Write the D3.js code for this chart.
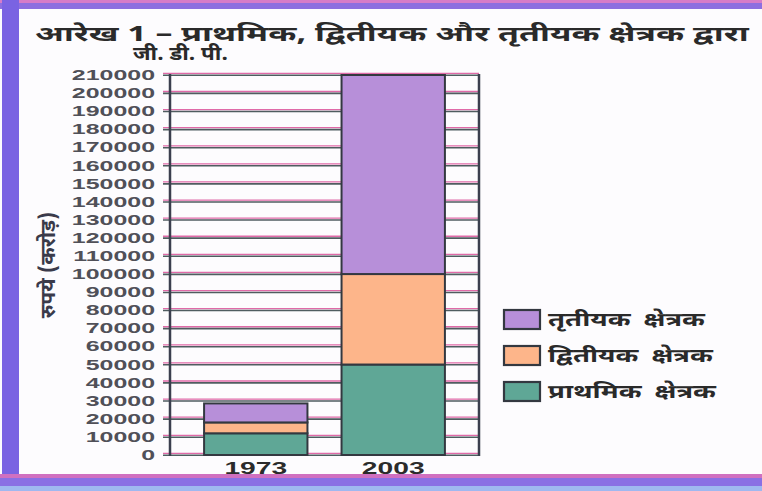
<!DOCTYPE html>
<html>
<head>
<meta charset="utf-8">
<script src="https://cdn.jsdelivr.net/npm/d3@7"></script>
<style>
html,body{margin:0;padding:0;background:#fff;}
svg{display:block;}
</style>
</head>
<body>
<svg id="chart" width="762" height="491"></svg>
<script>
// ---- data ----
const categories = ["1973", "2003"];
const primary = [12000, 50000];
const secondary = [6000, 50000];
const tertiary = [10500, 110000];
const seriesKeys = ["primary", "secondary", "tertiary"];
const seriesLabels = ["प्राथमिक क्षेत्रक", "द्वितीयक क्षेत्रक", "तृतीयक क्षेत्रक"];
const yTickValues = d3.range(0, 210001, 10000);
const titleLines = ["आरेख 1 – प्राथमिक, द्वितीयक और तृतीयक क्षेत्रक द्वारा", "जी. डी. पी."];
const yLabel = "रुपये (करोड़)";

const colors = {primary: "#5fa796", secondary: "#fdb58a", tertiary: "#b78fd9"};

const svg = d3.select("#chart");
const W = 762, H = 491;

// background & outer frame
svg.append("rect").attr("width", W).attr("height", H).attr("fill", "#fdfcfe");
svg.append("rect").attr("x", 0).attr("y", 0).attr("width", W).attr("height", 3).attr("fill", "#d77cc8");
svg.append("rect").attr("x", 0).attr("y", 3).attr("width", W).attr("height", 6).attr("fill", "#8e6fe0");
svg.append("rect").attr("x", 2).attr("y", 0).attr("width", 17).attr("height", H).attr("fill", "#7a63e2");
svg.append("rect").attr("x", 0).attr("y", 474).attr("width", W).attr("height", 4).attr("fill", "#d070c0");
svg.append("rect").attr("x", 0).attr("y", 478).attr("width", W).attr("height", 8).attr("fill", "#8a6fe4");
svg.append("rect").attr("x", 0).attr("y", 486).attr("width", W).attr("height", 5).attr("fill", "#9fb8f0");

const devFont = "'Noto Sans Devanagari','Lohit Devanagari','Mangal','Noto Sans',sans-serif";

// title: stretched horizontally to the printed width
function stretchedText(str, x, y, size, targetWidth) {
  const g = svg.append("g");
  const t = g.append("text")
    .attr("font-family", devFont).attr("font-weight", "bold").attr("font-size", size)
    .attr("fill", "#2a2a2a").attr("xml:space", "preserve").text(str);
  const w = t.node().getComputedTextLength() || targetWidth;
  g.attr("transform", `translate(${x},${y}) scale(${targetWidth / w},1)`);
}
stretchedText(titleLines[0], 35, 41, 21, 714);
stretchedText(titleLines[1], 133, 60, 19, 95);

// scales
const x0 = 170, x1 = 479, yTop = 75, yBot = 455;
const x = d3.scaleBand().domain(categories).range([x0, x1]).paddingInner(0.248).paddingOuter(0.248);
const y = d3.scaleLinear().domain([0, 210000]).range([yBot, yTop]);

// gridlines (misregistered print: pink + dark)
const grid = svg.append("g");
grid.selectAll("line.pink").data(yTickValues).join("line")
  .attr("x1", 163).attr("x2", x1).attr("y1", d => y(d) - 1.6).attr("y2", d => y(d) - 1.6)
  .attr("stroke", "#e06aa8").attr("stroke-width", 1.3);
grid.selectAll("line.dark").data(yTickValues).join("line")
  .attr("x1", 163).attr("x2", x1).attr("y1", d => y(d) + 0.3).attr("y2", d => y(d) + 0.3)
  .attr("stroke", "#4f5d60").attr("stroke-width", 1.6);

// axis labels via d3 axis
const yAxis = d3.axisLeft(y).tickValues(yTickValues).tickSize(0).tickPadding(0).tickFormat(d3.format("d"));
const ax = svg.append("g").attr("transform", `translate(155,0)`).call(yAxis);
ax.select(".domain").remove();
ax.selectAll("text")
  .attr("font-family", "'Liberation Sans',Arial,sans-serif").attr("font-weight", "bold")
  .attr("font-size", 14).attr("fill", "#505058")
  .attr("x", 0).attr("dy", "0.36em")
  .attr("transform", "scale(1.78,1)");
ax.selectAll(".tick").each(function(d){
  d3.select(this).attr("transform", `translate(0,${y(d)})`);
});

// stacked bars
const table = categories.map((c, i) => ({cat: c, primary: primary[i], secondary: secondary[i], tertiary: tertiary[i]}));
const stacked = d3.stack().keys(seriesKeys)(table);
svg.append("g").selectAll("g").data(stacked).join("g")
  .attr("fill", s => colors[s.key])
  .selectAll("rect").data(s => s).join("rect")
  .attr("x", d => x(d.data.cat)).attr("width", x.bandwidth())
  .attr("y", d => y(d[1])).attr("height", d => y(d[0]) - y(d[1]))
  .attr("stroke", "#333840").attr("stroke-width", 2);

// frame lines
svg.append("line").attr("x1", x0).attr("x2", x0).attr("y1", yTop - 1).attr("y2", yBot + 1)
  .attr("stroke", "#3b3f4e").attr("stroke-width", 2.5);
svg.append("line").attr("x1", x1).attr("x2", x1).attr("y1", yTop - 1).attr("y2", yBot + 1)
  .attr("stroke", "#3b3f4e").attr("stroke-width", 2.5);

// x labels
const xAxis = d3.axisBottom(x).tickSize(0).tickPadding(0);
const xa = svg.append("g").attr("transform", `translate(0,${yBot + 19})`).call(xAxis);
xa.select(".domain").remove();
xa.selectAll("text")
  .attr("font-family", "'Liberation Sans',Arial,sans-serif").attr("font-weight", "bold")
  .attr("font-size", 17).attr("fill", "#2b2b2b").attr("dy", 0)
  .attr("transform", "scale(1.66,1)");
xa.selectAll(".tick").each(function(d){
  d3.select(this).attr("transform", `translate(${x(d) + x.bandwidth()/2},0)`);
});

// y axis title
svg.append("text")
  .attr("transform", "translate(55,265) rotate(-90)")
  .attr("text-anchor", "middle")
  .attr("font-family", devFont).attr("font-weight", "bold").attr("font-size", 21)
  .attr("fill", "#3a3a4a").text(yLabel);

// legend (tertiary on top)
const legendOrder = [2, 1, 0];
const lg = svg.append("g");
legendOrder.forEach((si, i) => {
  const yy = 310 + i * 36;
  lg.append("rect").attr("x", 504).attr("y", yy).attr("width", 36).attr("height", 19)
    .attr("fill", colors[seriesKeys[si]]).attr("stroke", "#333840").attr("stroke-width", 2.2);
  lg.append("text").attr("transform", `translate(548,${yy + 16}) scale(1.45,1)`)
    .attr("font-family", devFont).attr("font-weight", "bold").attr("font-size", 19)
    .attr("fill", "#2a2a2a").attr("word-spacing", 4).text(seriesLabels[si]);
});
</script>
</body>
</html>
